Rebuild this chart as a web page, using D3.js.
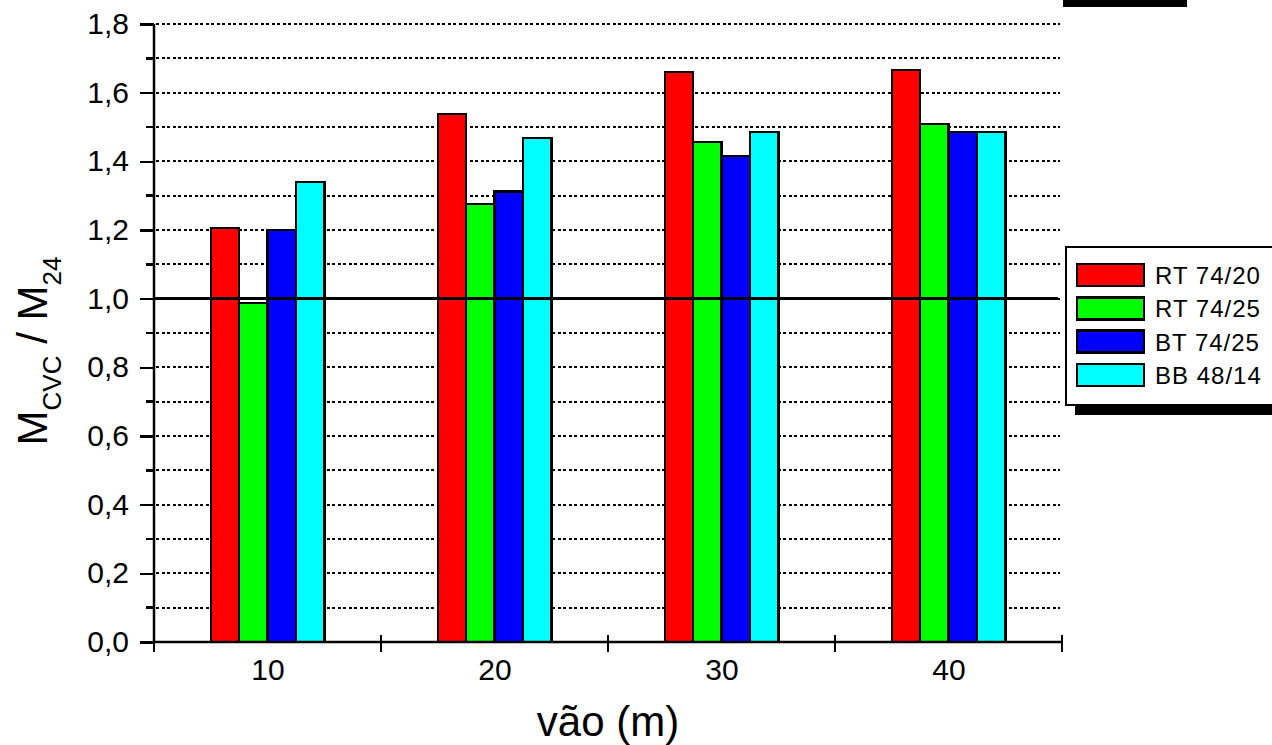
<!DOCTYPE html>
<html><head><meta charset="utf-8">
<script src="https://cdn.jsdelivr.net/npm/d3@7"></script>
<style>body{margin:0;background:#fff}svg{display:block;font-family:"Liberation Sans",Arial,sans-serif}line,rect{shape-rendering:crispEdges}</style>
</head><body>
<svg id="c" width="1272" height="745"></svg>
<script>
const categories = [10, 20, 30, 40];
const seriesNames = ["RT 74/20", "RT 74/25", "BT 74/25", "BB 48/14"];
const seriesColors = ["#ff0000", "#00ff00", "#0000ff", "#00ffff"];
const rt7420 = [1.206, 1.538, 1.660, 1.666];
const rt7425 = [0.988, 1.276, 1.456, 1.509];
const bt7425 = [1.200, 1.312, 1.416, 1.486];
const bb4814 = [1.340, 1.468, 1.486, 1.486];
const seriesValues = [rt7420, rt7425, bt7425, bb4814];
const yMajorTicks = [0, 0.2, 0.4, 0.6, 0.8, 1.0, 1.2, 1.4, 1.6, 1.8];
const yMinorTicks = [0.1, 0.3, 0.5, 0.7, 0.9, 1.1, 1.3, 1.5, 1.7];
const xBoundaryTicks = [5, 15, 25, 35, 45];
const refValue = 1.0;

const svg = d3.select("#c");
const x = d3.scaleLinear().domain([5, 45]).range([154, 1062]);
const y = d3.scaleLinear().domain([0, 1.8]).range([642, 24]);
const inner = d3.scaleBand().domain(d3.range(seriesNames.length)).range([-2.5, 2.5].map(d => x(d) - x(0))).padding(0);
const fmt = d => d3.format(".1f")(d).replace(".", ",");

// grid
const gridVals = yMajorTicks.concat(yMinorTicks).filter(v => v > 0);
svg.append("g").selectAll("line").data(gridVals).join("line")
  .attr("x1", x(5) + 2).attr("x2", 1060)
  .attr("y1", d => y(d)).attr("y2", d => y(d))
  .attr("stroke", "#000").attr("stroke-width", 2).attr("stroke-dasharray", "3,2.5");

// bars
const barData = [];
categories.forEach((c, i) => seriesValues.forEach((s, j) => barData.push({c, j, v: s[i]})));
svg.append("g").selectAll("rect").data(barData).join("rect")
  .attr("x", d => x(d.c) + inner(d.j))
  .attr("width", inner.bandwidth())
  .attr("y", d => y(d.v))
  .attr("height", d => y(0) - y(d.v))
  .attr("fill", d => seriesColors[d.j])
  .attr("stroke", "#000").attr("stroke-width", 2.5);

// reference line
svg.append("line").attr("x1", x(5)).attr("x2", 1058)
  .attr("y1", y(refValue)).attr("y2", y(refValue))
  .attr("stroke", "#000").attr("stroke-width", 3.5);

// y axis
const yAxis = svg.append("g").attr("transform", `translate(${x(5)},0)`)
  .call(d3.axisLeft(y).tickValues(yMajorTicks).tickFormat(fmt).tickSize(14).tickPadding(11));
yAxis.attr("font-size", null).attr("font-family", null);
yAxis.select(".domain").attr("stroke-width", 2.5).attr("d", `M0,${y(1.8)}V${y(0)}`);
yAxis.selectAll(".tick line").attr("stroke-width", 2.5);
yAxis.selectAll(".tick text").style("font-size", "30px").style("font-family", "'Liberation Sans', Arial, sans-serif").attr("fill", "#000");
svg.append("g").attr("transform", `translate(${x(5)},0)`)
  .selectAll("line").data(yMinorTicks).join("line")
  .attr("x1", -8).attr("x2", 0).attr("y1", d => y(d)).attr("y2", d => y(d))
  .attr("stroke", "#000").attr("stroke-width", 2.5);

// x axis
const xAxis = svg.append("g").attr("transform", `translate(0,${y(0)})`)
  .call(d3.axisBottom(x).tickValues(categories).tickFormat(d => d).tickSize(0).tickPadding(17));
xAxis.attr("font-size", null).attr("font-family", null);
xAxis.select(".domain").attr("stroke-width", 2.5).attr("d", `M${x(5)},0H${x(45)}`);
xAxis.selectAll(".tick text").style("font-size", "30px").style("font-family", "'Liberation Sans', Arial, sans-serif").attr("fill", "#000");
svg.append("g").attr("transform", `translate(0,${y(0)})`)
  .selectAll("line").data(xBoundaryTicks).join("line")
  .attr("x1", d => x(d)).attr("x2", d => x(d))
  .attr("y1", (d, i) => i === 0 ? 0 : -7).attr("y2", 10)
  .attr("stroke", "#000").attr("stroke-width", 2.5);

// axis titles
svg.append("text").attr("x", (x(5) + x(45)) / 2).attr("y", 736)
  .attr("text-anchor", "middle").style("font-size", "42px").text("vão (m)");
const yt = svg.append("text").attr("transform", "translate(47,351) rotate(-90)")
  .attr("text-anchor", "middle").style("font-size", "42px");
yt.append("tspan").text("M");
yt.append("tspan").style("font-size", "26px").attr("dy", 14).text("CVC");
yt.append("tspan").attr("dy", -14).text(" / M");
yt.append("tspan").style("font-size", "26px").attr("dy", 14).text("24");

// top black bar (shadow fragment)
svg.append("rect").attr("x", 1063).attr("y", 0).attr("width", 124).attr("height", 7).attr("fill", "#000");

// legend
const lg = svg.append("g");
lg.append("rect").attr("x", 1075).attr("y", 405).attr("width", 220).attr("height", 10).attr("fill", "#000");
lg.append("rect").attr("x", 1066).attr("y", 247).attr("width", 230).attr("height", 158)
  .attr("fill", "#fff").attr("stroke", "#000").attr("stroke-width", 2.5);
const items = lg.selectAll("g.it").data(seriesNames).join("g")
  .attr("transform", (d, i) => `translate(0,${264 + i * 33.3})`);
items.append("rect").attr("x", 1077).attr("y", 0).attr("width", 67).attr("height", 22)
  .attr("fill", (d, i) => seriesColors[i]).attr("stroke", "#000").attr("stroke-width", 2.5);
items.append("text").attr("x", 1155).attr("y", 20).style("font-size", "24px")
  .attr("letter-spacing", 1).text(d => d);
</script>
</body></html>
